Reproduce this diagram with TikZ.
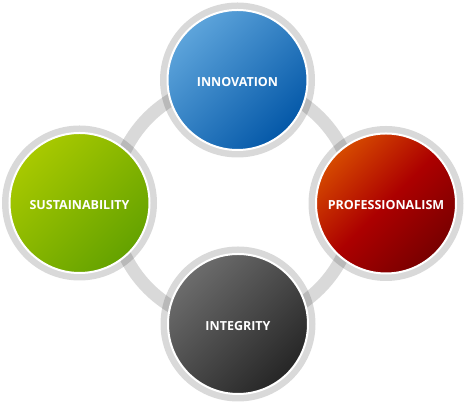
\documentclass[tikz,border=0pt]{standalone}
\usepackage{fontspec}
\setmainfont{Open Sans}
\begin{document}
\begin{tikzpicture}[
  x=1pt, y=1pt,
  rim/.style={circle, fill=black, fill opacity=0.15, minimum size=155pt, inner sep=0pt},
  value/.style={circle, draw=white, line width=2pt, minimum size=140pt, inner sep=0pt,
    text=white, font=\bfseries\fontsize{12.5}{14}\selectfont, shading angle=45},
  band/.style={draw=black, draw opacity=0.15, line width=13pt}
]
\useasboundingbox (0,0) rectangle (467,406);

% Ring
\coordinate (hub) at (234,203);
\draw[band] (hub) circle (121);

% Gray rims
\node (innovation-rim) at (237.5,326) [rim] {};
\node (professionalism-rim) at (386,202.5) [rim] {};
\node (sustainability-rim) at (79.5,203) [rim] {};
\node (integrity-rim) at (238,82) [rim] {};

% Values
\node (innovation) at (innovation-rim) [value, top color={rgb,255:red,93;green,164;blue,219}, bottom color={rgb,255:red,4;green,88;blue,168}, shading angle=45] {\raisebox{-6.5pt}[0pt][0pt]{INNOVATION}};
\node (professionalism) at (professionalism-rim) [value, top color={rgb,255:red,214;green,74;blue,0}, bottom color={rgb,255:red,120;green,0;blue,0}, middle color={rgb,255:red,172;green,0;blue,0}, shading angle=45] {\raisebox{-6.5pt}[0pt][0pt]{PROFESSIONALISM}};
\node (sustainability) at (sustainability-rim) [value, top color={rgb,255:red,168;green,201;blue,0}, bottom color={rgb,255:red,100;green,162;blue,0}, shading angle=45] {\raisebox{-6.5pt}[0pt][0pt]{SUSTAINABILITY}};
\node (integrity) at (integrity-rim) [value, top color={rgb,255:red,108;green,108;blue,108}, bottom color={rgb,255:red,38;green,38;blue,38}, shading angle=45] {\raisebox{-6.5pt}[0pt][0pt]{INTEGRITY}};

\end{tikzpicture}
\end{document}
